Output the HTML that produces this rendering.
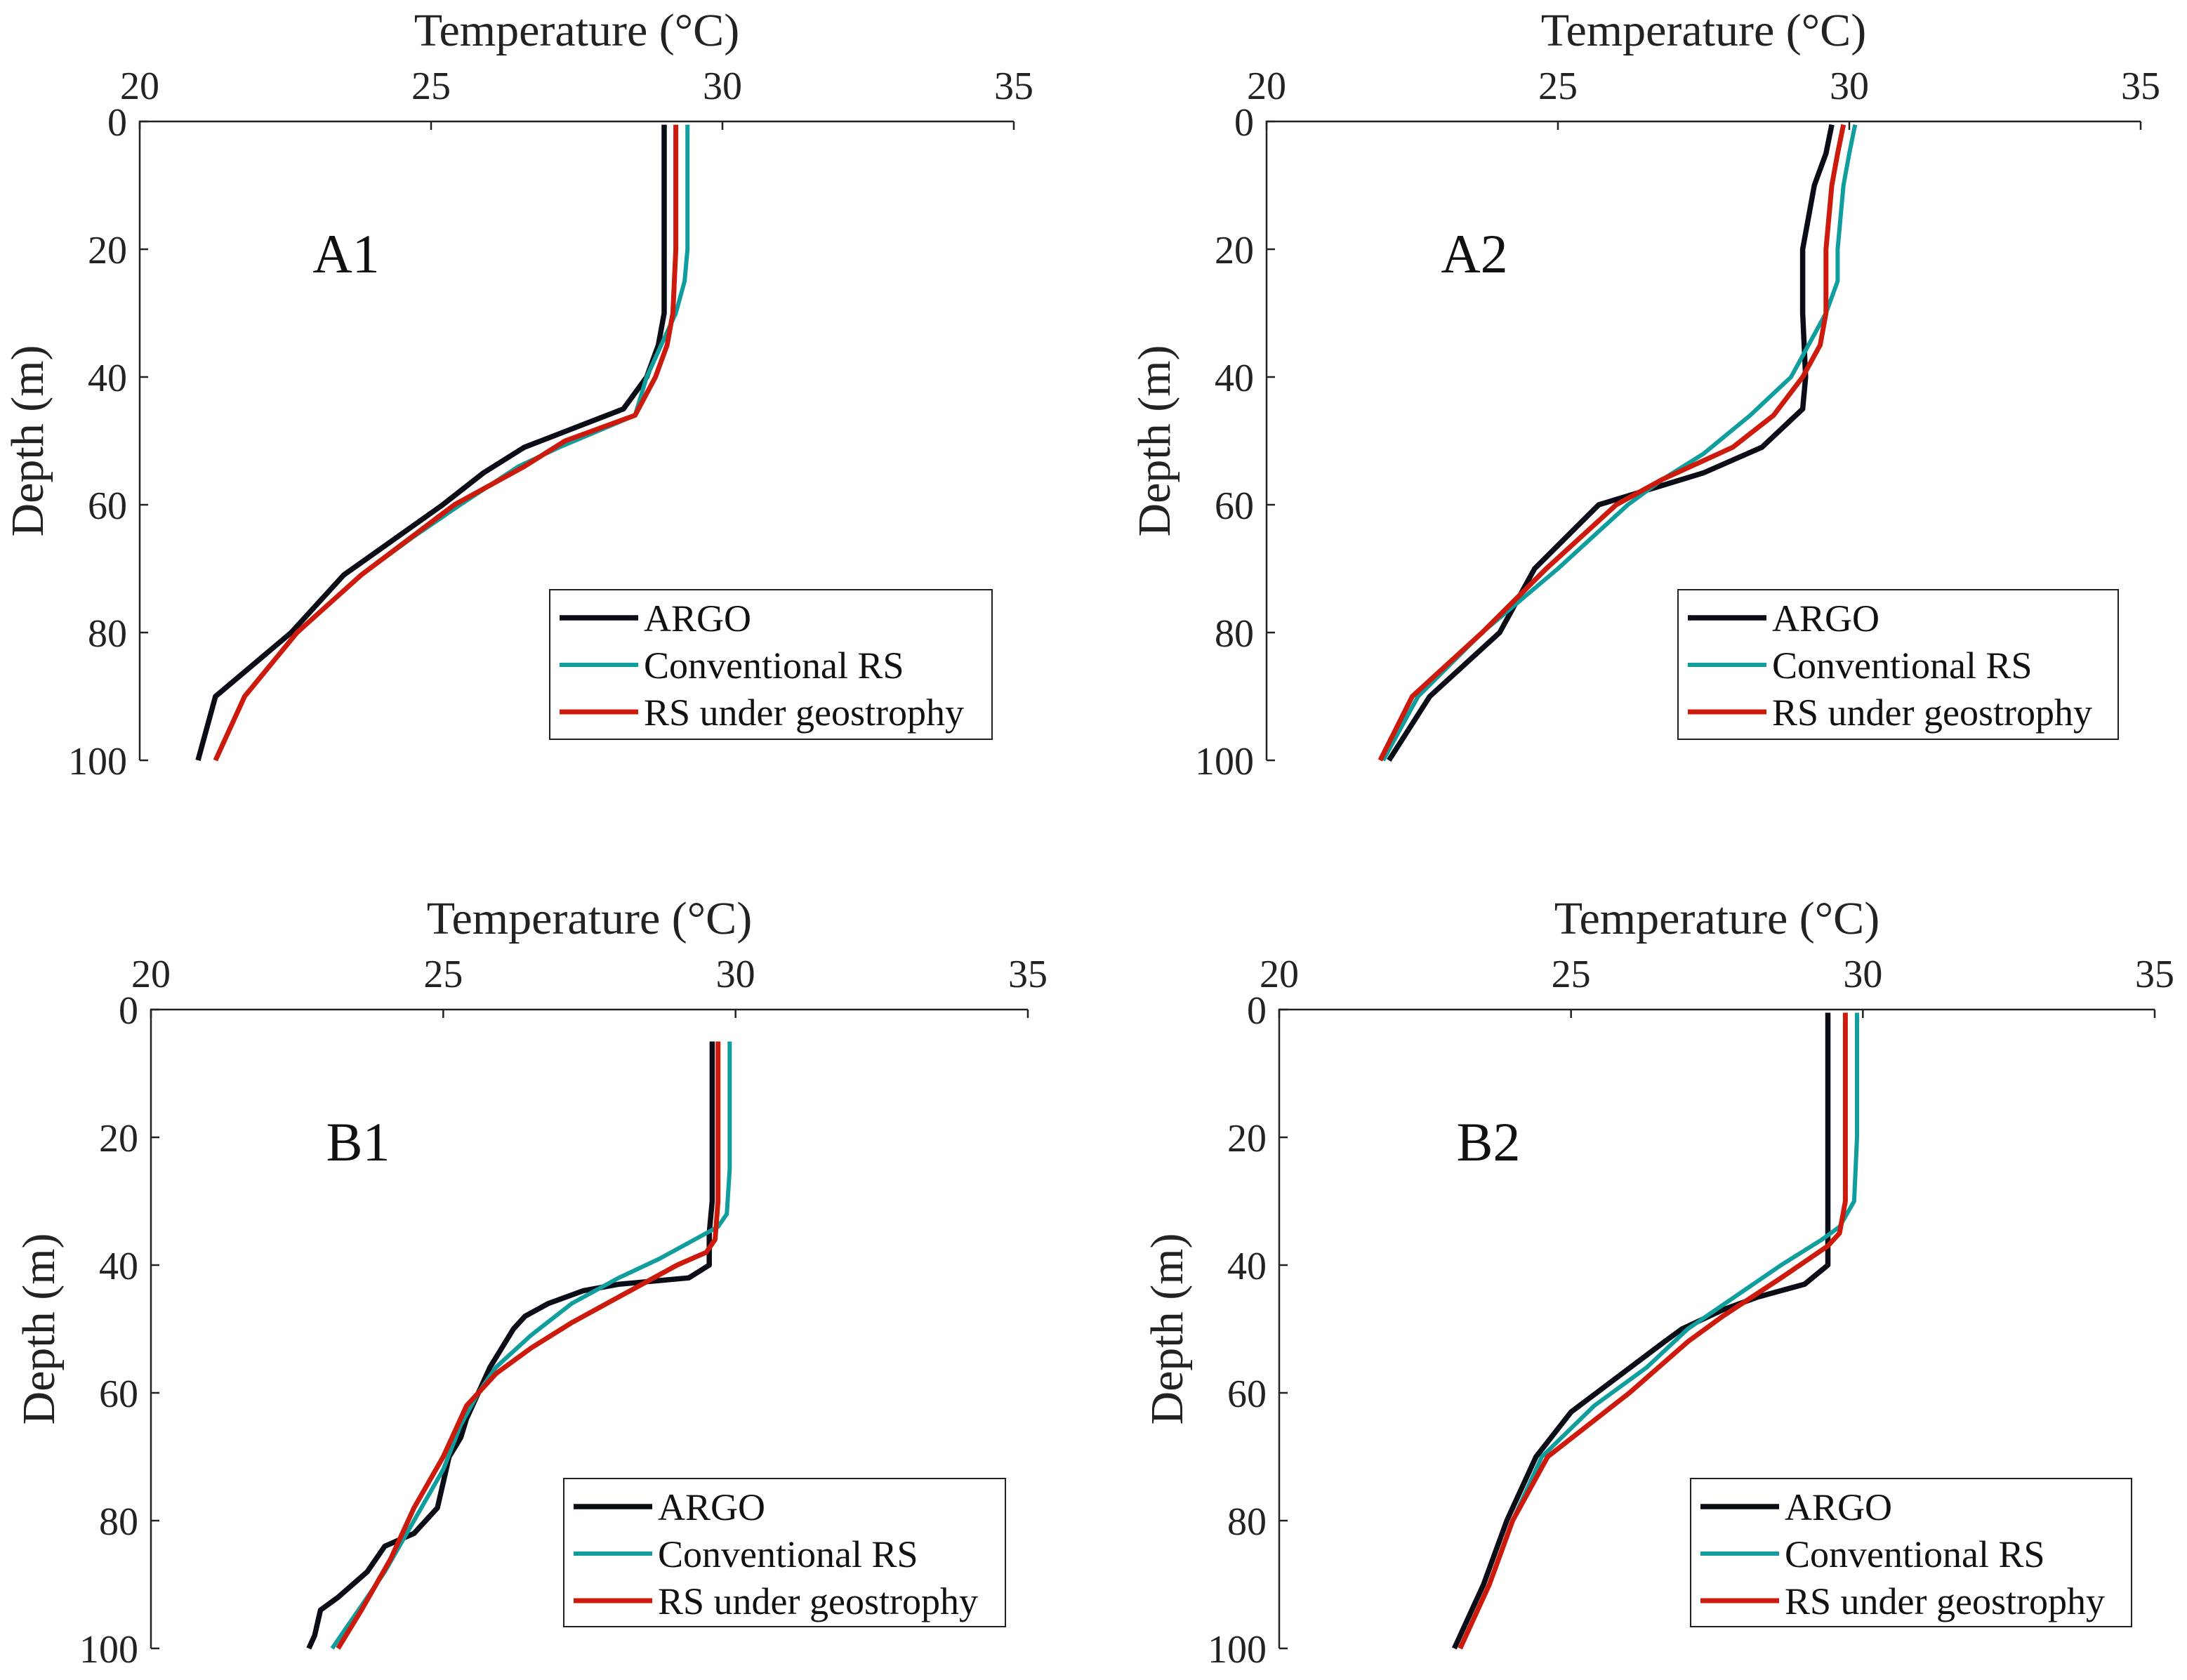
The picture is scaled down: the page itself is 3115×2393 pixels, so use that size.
<!DOCTYPE html>
<html><head><meta charset="utf-8">
<style>
html,body{margin:0;padding:0;background:#fff;}
svg{display:block;font-family:"Liberation Serif",serif;}
</style></head>
<body>
<svg id="fig" width="3115" height="2393" viewBox="0 0 3115 2393" xmlns="http://www.w3.org/2000/svg"></svg>
<script>
const xTicks=[20,25,30,35];
const yTicks=[0,20,40,60,80,100];
const seriesNames=["ARGO","Conventional RS","RS under geostrophy"];
const panelLabels=["A1","A2","B1","B2"];
// A1
const a1ArgoT=[29.0,29.0,28.9,28.7,28.3,26.6,25.9,25.2,23.5,22.6,21.3,21.0];
const a1ArgoD=[0.5,30,35,40,45,51,55,60,71,80,90,100];
const a1ConvT=[29.4,29.4,29.35,29.2,28.95,28.7,28.5,27.2,26.5,25.5,24.7,23.8,22.7,21.8,21.3];
const a1ConvD=[0.5,20,25,30,35,40,46,51,54,60,65,71,80,90,100];
const a1GeoT=[29.2,29.2,29.15,29.05,28.85,28.5,27.3,26.6,25.4,23.8,22.7,21.8,21.3];
const a1GeoD=[0.5,20,30,35,40,46,50,54,60,71,80,90,100];
// A2
const a2ArgoT=[29.7,29.6,29.4,29.3,29.2,29.2,29.25,29.2,28.5,27.5,25.7,24.6,24.0,22.8,22.1];
const a2ArgoD=[0.5,5,10,15,20,30,40,45,51,55,60,70,80,90,100];
const a2ConvT=[30.1,30.0,29.9,29.8,29.8,29.6,29.3,29.0,28.3,27.5,26.8,26.2,25.0,23.7,22.6,22.0];
const a2ConvD=[0.5,5,10,20,25,30,35,40,46,52,56,60,70,80,90,100];
const a2GeoT=[29.9,29.8,29.7,29.6,29.6,29.5,29.2,28.7,28.0,26.8,26.0,24.8,23.7,22.5,21.95];
const a2GeoD=[0.5,5,10,20,30,35,40,46,51,56,60,70,80,90,100];
// B1
const b1ArgoT=[29.6,29.6,29.55,29.55,29.2,28.0,27.4,26.8,26.4,26.2,26.0,25.8,25.7,25.6,25.5,25.4,25.3,25.1,24.9,24.5,24.0,23.7,23.2,22.9,22.8,22.7];
const b1ArgoD=[5,30,35,40,42,43,44,46,48,50,53,56,58,60,62,64,67,70,78,82,84,88,92,94,98,100];
const b1ConvT=[29.9,29.9,29.85,29.7,29.3,28.7,28.0,27.2,26.5,25.9,25.6,25.3,25.0,24.5,24.0,23.4,23.1];
const b1ConvD=[5,25,32,34,36,39,42,46,51,56,60,65,72,80,88,96,100];
const b1GeoT=[29.7,29.7,29.65,29.5,29.0,28.2,27.2,26.5,25.9,25.4,25.0,24.5,24.1,23.6,23.2];
const b1GeoD=[5,30,36,38,40,44,49,53,57,62,70,78,86,94,100];
// B2
const b2ArgoT=[29.4,29.4,29.0,28.2,27.6,26.9,26.6,25.0,24.4,23.9,23.5,23.0];
const b2ArgoD=[0.5,40,43,45,47,50,52,63,70,80,90,100];
const b2ConvT=[29.9,29.9,29.85,29.6,29.3,28.6,27.8,27.0,26.3,25.4,24.5,24.0,23.6,23.1];
const b2ConvD=[0.5,20,30,34,36,40,45,50,56,62,70,80,90,100];
const b2GeoT=[29.7,29.7,29.6,29.4,28.6,27.6,27.0,26.0,24.6,24.0,23.6,23.1];
const b2GeoD=[0.5,30,35,37,42,48,52,60,70,80,90,100];

const NS="http://www.w3.org/2000/svg";
const svg=document.getElementById('fig');
const colors=["#0b0d16","#0f9d9d","#cc1b0c"];
const widths=[7.5,6,7];
function mk(tag,attrs,parent){const e=document.createElementNS(NS,tag);for(const k in attrs)e.setAttribute(k,attrs[k]);(parent||svg).appendChild(e);return e;}

const panels=[
 {x0:199,x1:1444,y0:173,y1:1083,data:[[a1ArgoT,a1ArgoD],[a1ConvT,a1ConvD],[a1GeoT,a1GeoD]],leg:[783,840,630,213],lab:[493,360]},
 {x0:1804,x1:3049,y0:173,y1:1083,data:[[a2ArgoT,a2ArgoD],[a2ConvT,a2ConvD],[a2GeoT,a2GeoD]],leg:[2390,840,627,213],lab:[2100,360]},
 {x0:215,x1:1464,y0:1438,y1:2348,data:[[b1ArgoT,b1ArgoD],[b1ConvT,b1ConvD],[b1GeoT,b1GeoD]],leg:[803,2106,629,211],lab:[510,1625]},
 {x0:1822,x1:3069,y0:1438,y1:2348,data:[[b2ArgoT,b2ArgoD],[b2ConvT,b2ConvD],[b2GeoT,b2GeoD]],leg:[2408,2106,628,211],lab:[2120,1625]}
];
panels.forEach((p,pi)=>{
 const g=mk('g',{});
 
 
 const sx=t=>p.x0+(t-20)/15*(p.x1-p.x0);
 const sy=d=>p.y0+d/100*(p.y1-p.y0);
 const ax=mk('path',{d:`M${p.x0},${p.y1}V${p.y0}H${p.x1}`,fill:'none',stroke:'#222',"stroke-width":2.5},g);
 
 
 xTicks.forEach(t=>{
  mk('line',{x1:sx(t),x2:sx(t),y1:p.y0,y2:p.y0+12,stroke:'#222',"stroke-width":2.5},g);
  const tx=mk('text',{x:sx(t),y:p.y0-32,"font-size":56,"text-anchor":"middle",fill:'#222'},g);
  tx.textContent=t;
  
  
 });
 yTicks.forEach(d=>{
  mk('line',{x1:p.x0,x2:p.x0+12,y1:sy(d),y2:sy(d),stroke:'#222',"stroke-width":2.5},g);
  const tx=mk('text',{x:p.x0-18,y:sy(d)+20,"font-size":56,"text-anchor":"end",fill:'#222'},g);
  tx.textContent=d;
  
  
 });
 const xt=mk('text',{x:(p.x0+p.x1)/2,y:p.y0-108,"font-size":66,"text-anchor":"middle",fill:'#222'},g);
 xt.textContent="Temperature (°C)";
 
 
 const yc=(p.y0+p.y1)/2;
 const yt=mk('text',{x:p.x0-138,y:yc,"font-size":66,"text-anchor":"middle",fill:'#222',transform:`rotate(-90 ${p.x0-138} ${yc})`},g);
 yt.textContent="Depth (m)";
 
 
 const lb=mk('text',{x:p.lab[0],y:p.lab[1]+28,"font-size":78,"text-anchor":"middle",fill:'#111'},g);
 lb.textContent=panelLabels[pi];
 
 
 p.data.forEach((s,si)=>{
  const pts=s[0].map((t,i)=>sx(t).toFixed(1)+','+sy(s[1][i]).toFixed(1)).join(' ');
  const pl=mk('polyline',{points:pts,fill:'none',stroke:colors[si],"stroke-width":widths[si],"stroke-linejoin":"round"},g);
  
  
 });
 const [lx,ly,lw,lh]=p.leg;
 const lg=mk('g',{},g);
 
 
 mk('rect',{x:lx,y:ly,width:lw,height:lh,fill:'#fff',stroke:'#222',"stroke-width":2},lg);
 seriesNames.forEach((n,si)=>{
  const yy=ly+40+si*67;
  mk('line',{x1:lx+14,x2:lx+126,y1:yy,y2:yy,stroke:colors[si],"stroke-width":widths[si]},lg);
  const tx=mk('text',{x:lx+134,y:yy+19,"font-size":54,fill:'#111'},lg);
  tx.textContent=n;
  
  
 });
});
</script>
</body></html>
